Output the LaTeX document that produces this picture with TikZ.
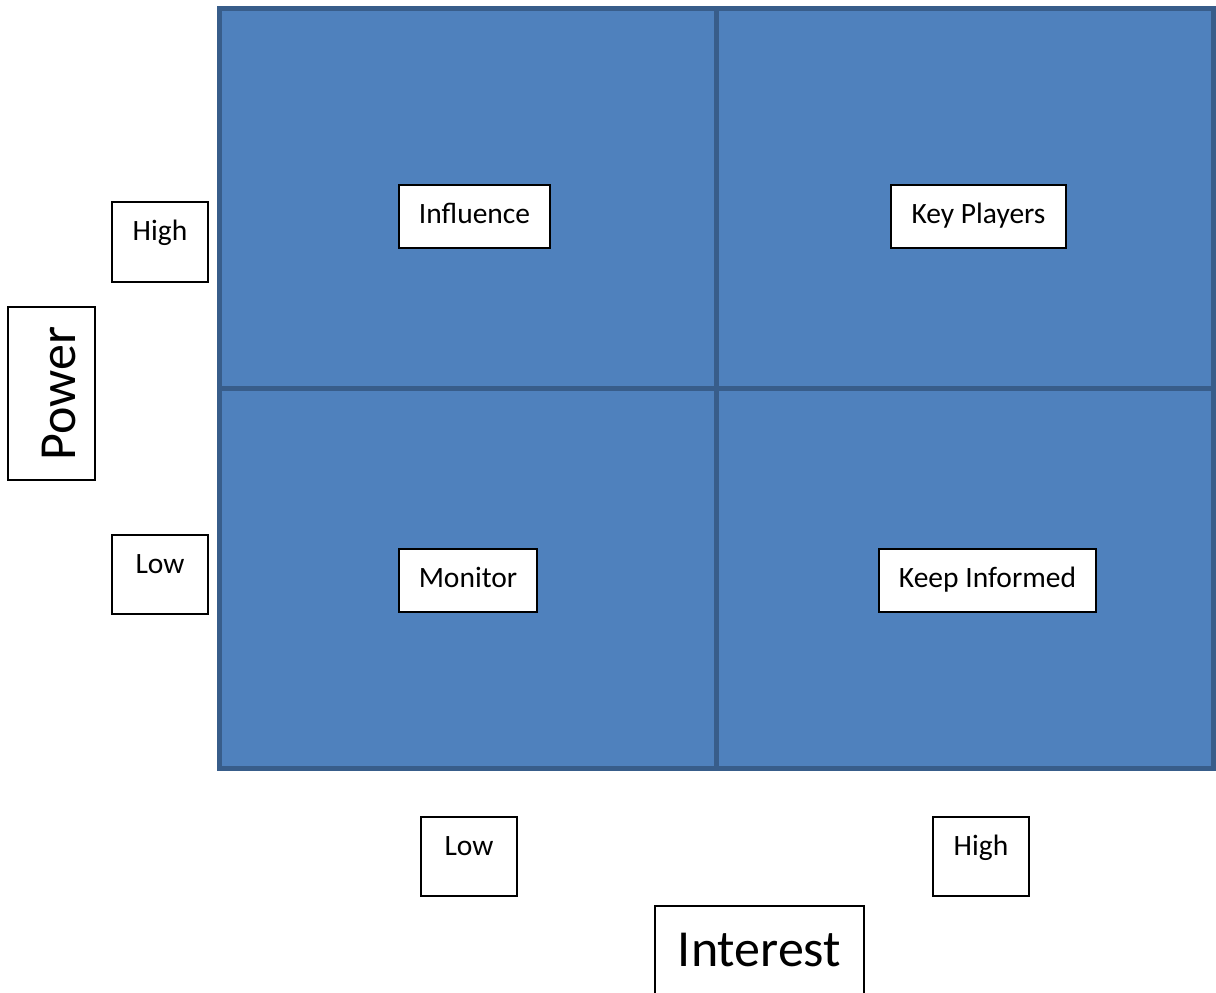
\documentclass[tikz,border=0pt]{standalone}
\usepackage{fontspec}
\setmainfont{Carlito}
\definecolor{qfill}{HTML}{4F81BD}
\definecolor{qline}{HTML}{385D8A}
\tikzset{
  quad/.style={draw=qline, fill=qfill, line width=5pt, rectangle, inner sep=0pt, outer sep=0pt,
    minimum width=497pt, minimum height=380pt},
  lbl/.style={draw=black, fill=white, line width=1.2pt, rectangle, inner sep=0pt, outer sep=0pt,
    font=\fontsize{29.5}{34}\selectfont},
  big/.style={draw=black, fill=white, line width=1.2pt, rectangle, inner sep=0pt, outer sep=0pt,
    font=\fontsize{52}{58}\selectfont},
}
\begin{document}
\begin{tikzpicture}[x=1pt,y=-1pt]
\useasboundingbox (0,0) rectangle (1216,993);
% quadrants
\node[quad] (q1) at (467.5,198) {};
\node[quad] (q2) at (964.5,198) {};
\node[quad] (q3) at (467.5,578) {};
\node[quad] (q4) at (964.5,578) {};
% quadrant labels
\node[lbl, minimum width=151pt, text height=38pt, text depth=25pt] (inf) at (474.5,216.5) {Influence};
\node[lbl, minimum width=175pt, text height=38pt, text depth=25pt] (key) at (978.5,216.5) {Key Players};
\node[lbl, minimum width=138pt, text height=38pt, text depth=25pt] (mon) at (468,580.5) {Monitor};
\node[lbl, minimum width=217pt, text height=38pt, text depth=25pt] (kin) at (987.5,580.5) {Keep Informed};
% power axis
\node[lbl, minimum width=96pt, text height=38pt, text depth=42pt] (phigh) at (160,242) {High};
\node[lbl, minimum width=96pt, text height=38pt, text depth=41pt] (plow) at (160,574.5) {Low};
\node[big, rotate=90, minimum width=173pt, text height=67pt, text depth=20pt] (power) at (51.5,393.5) {Power};
% interest axis
\node[lbl, minimum width=96pt, text height=38pt, text depth=41pt] (ilow) at (469,856.5) {Low};
\node[lbl, minimum width=96pt, text height=38pt, text depth=41pt] (ihigh) at (981,856.5) {High};
\node[big, minimum width=209pt, text height=60pt, text depth=37pt] (interest) at (759.5,954.5) {Interest};
\end{tikzpicture}
\end{document}
